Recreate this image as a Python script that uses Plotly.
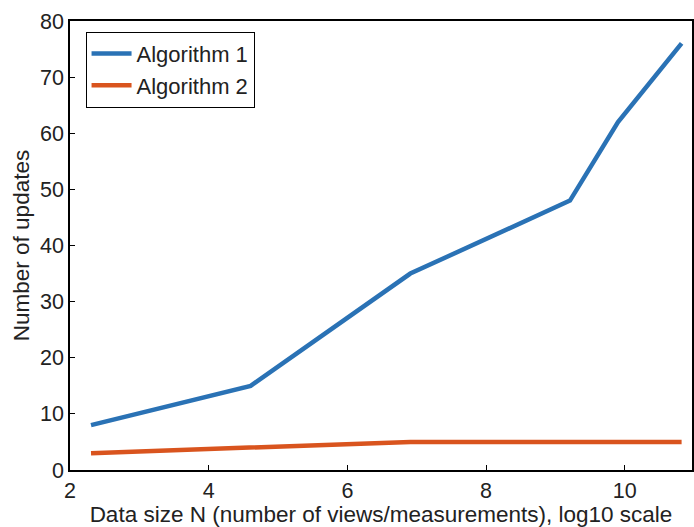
import plotly.graph_objects as go

x_vals = [2.303, 4.605, 6.908, 9.210, 9.903, 10.820]
alg1 = [8, 15, 35, 48, 62, 76]
alg2 = [3, 4, 5, 5, 5, 5]
series_names = ["Algorithm 1", "Algorithm 2"]
x_ticks = [2, 4, 6, 8, 10]
y_ticks = [0, 10, 20, 30, 40, 50, 60, 70, 80]

FONT = "Liberation Sans, Arial, Helvetica, sans-serif"

fig = go.Figure()
fig.add_trace(go.Scatter(x=x_vals, y=alg1, mode="lines", name=series_names[0],
                         line=dict(color="#2a72b5", width=4.5)))
fig.add_trace(go.Scatter(x=x_vals, y=alg2, mode="lines", name=series_names[1],
                         line=dict(color="#d9541e", width=4.5)))

axis_common = dict(showgrid=False, zeroline=False, showline=True, linecolor="black",
                   linewidth=1.5, mirror=True, ticks="inside", ticklen=5,
                   tickcolor="black", tickwidth=1,
                   tickfont=dict(family=FONT, size=21.5, color="#222"))

fig.update_layout(
    width=694, height=527,
    margin=dict(l=70, r=0, t=21, b=57),
    plot_bgcolor="white", paper_bgcolor="white",
    xaxis=dict(range=[2, 10.97], tickvals=x_ticks,
               title=dict(text="Data size N (number of views/measurements), log10 scale",
                          font=dict(family=FONT, size=22.5, color="#222"), standoff=2),
               **axis_common),
    yaxis=dict(range=[0, 80], tickvals=y_ticks,
               title=dict(text="Number of updates",
                          font=dict(family=FONT, size=22.5, color="#222"), standoff=4),
               **axis_common),
    legend=dict(x=0.025, y=0.976, xanchor="left", yanchor="top",
                bgcolor="white", bordercolor="black", borderwidth=1,
                font=dict(family=FONT, size=22, color="#222"),
                itemwidth=40, tracegroupgap=0),
    showlegend=True,
)

fig.write_html("out.html", config={"displayModeBar": False},
               post_script="document.body.style.margin='0';document.body.style.padding='0';")
